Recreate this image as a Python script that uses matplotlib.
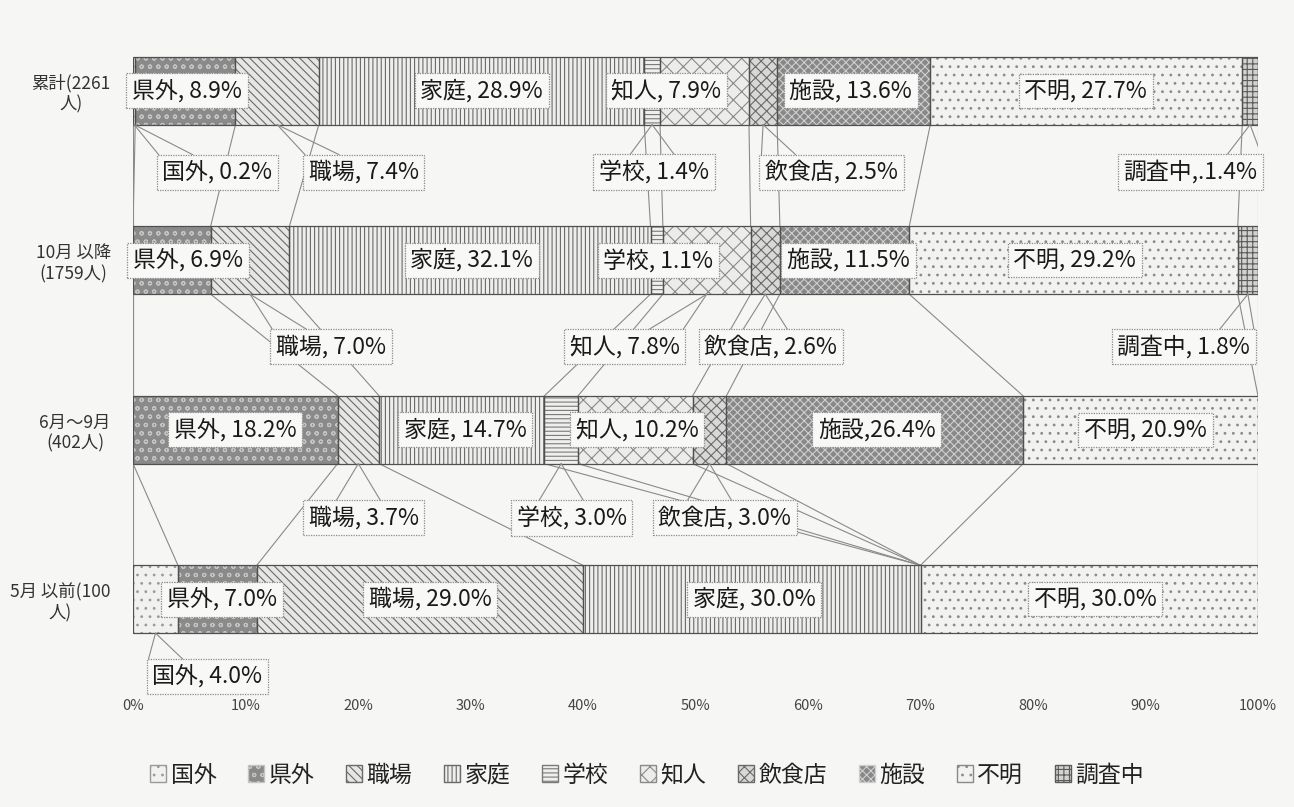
import matplotlib
matplotlib.use('Agg')
import matplotlib.pyplot as plt
from matplotlib.patches import Patch
import numpy as np

plt.rcParams['font.family'] = ['Noto Sans CJK JP', 'DejaVu Sans']
plt.rcParams['hatch.linewidth'] = 0.8

# ---------------- data ----------------
rows = ['累計(2261\n人)', '10月 以降\n(1759人)', '6月～9月\n(402人)', '5月 以前(100\n人)']
categories = ['国外', '県外', '職場', '家庭', '学校', '知人', '飲食店', '施設', '不明', '調査中']
v_total = [0.2, 8.9, 7.4, 28.9, 1.4, 7.9, 2.5, 13.6, 27.7, 1.4]
v_oct = [0.0, 6.9, 7.0, 32.1, 1.1, 7.8, 2.6, 11.5, 29.2, 1.8]
v_jun = [0.0, 18.2, 3.7, 14.7, 3.0, 10.2, 3.0, 26.4, 20.9, 0.0]
v_may = [4.0, 7.0, 29.0, 30.0, 0.0, 0.0, 0.0, 0.0, 30.0, 0.0]
values = [v_total, v_oct, v_jun, v_may]
xticks = [0, 10, 20, 30, 40, 50, 60, 70, 80, 90, 100]
xticklabels = ['0%', '10%', '20%', '30%', '40%', '50%', '60%', '70%', '80%', '90%', '100%']
# separators used in the original labels (default ", ")
label_sep = {(0, 9): ',.', (2, 7): ','}

# ---------------- style ----------------
styles = {
    '国外': ('#f1f1ef', '..', '#9a9a9a'),
    '県外': ('#8a8a8a', 'oo', '#c4c4c4'),
    '職場': ('#e6e6e4', '\\\\\\\\', '#6a6a6a'),
    '家庭': ('#eeeeec', '||||', '#6a6a6a'),
    '学校': ('#efefed', '----', '#7a7a7a'),
    '知人': ('#ececea', 'xx', '#8a8a8a'),
    '飲食店': ('#d8d8d6', 'xxx', '#6a6a6a'),
    '施設': ('#888888', 'xxxx', '#cfcfcf'),
    '不明': ('#f2f2f0', '..', '#8a8a8a'),
    '調査中': ('#d2d2d0', '+++', '#5a5a5a'),
}

# label layout: (row, category index) -> (x, y) in data coords
label_pos = {
    (0, 1): (4.8, 0), (0, 3): (31.0, 0), (0, 5): (47.4, 0), (0, 7): (63.8, 0), (0, 8): (84.7, 0),
    (0, 0): (7.5, 0.48), (0, 2): (20.5, 0.48), (0, 4): (46.3, 0.48), (0, 6): (62.1, 0.48), (0, 9): (94.0, 0.48),
    (1, 1): (4.9, 1), (1, 3): (30.1, 1), (1, 4): (46.7, 1), (1, 7): (63.6, 1), (1, 8): (83.7, 1),
    (1, 2): (17.6, 1.51), (1, 5): (43.7, 1.51), (1, 6): (56.7, 1.51), (1, 9): (93.4, 1.51),
    (2, 1): (9.1, 2), (2, 3): (29.5, 2), (2, 5): (44.8, 2), (2, 7): (66.1, 2), (2, 8): (90.0, 2),
    (2, 2): (20.5, 2.52), (2, 4): (39.0, 2.52), (2, 6): (52.6, 2.52),
    (3, 1): (7.9, 3), (3, 2): (26.4, 3), (3, 3): (55.2, 3), (3, 8): (85.5, 3),
    (3, 0): (6.6, 3.455),
}

BAR_H = 0.4
bg = '#f6f6f4'

fig = plt.figure(figsize=(12.94, 8.07), dpi=100, facecolor=bg)
ax = fig.add_axes([133 / 1294, 1 - 684 / 807, 1125 / 1294, 678 / 807])
ax.set_facecolor('none')

cums = []
for r, vals in enumerate(values):
    v = np.array(vals, dtype=float)
    v = v / v.sum() * 100.0
    left = np.concatenate([[0], np.cumsum(v)])
    cums.append(left)
    for k, cat in enumerate(categories):
        if v[k] <= 0:
            continue
        fc, h, hc = styles[cat]
        ax.barh(r, v[k], left=left[k], height=BAR_H, color=fc, hatch=h,
                edgecolor=hc, linewidth=0, zorder=2)
        ax.barh(r, v[k], left=left[k], height=BAR_H, fill=False,
                edgecolor='#505050', linewidth=0.9, zorder=3)

# series lines (including the 0 boundary)
for r in range(len(values) - 1):
    for k in range(len(categories) + 1):
        ax.plot([cums[r][k], cums[r + 1][k]], [r + BAR_H / 2, r + 1 - BAR_H / 2],
                color='#8a8a8a', lw=0.8, zorder=1)

ax.set_xlim(0, 100)
ax.set_ylim(3.5, -0.5)
ax.set_xticks(xticks)
ax.set_xticklabels(xticklabels, fontsize=10.5, color='#444444')
ax.set_yticks(range(len(rows)))
ax.set_yticklabels(rows, fontsize=12.5, color='#333333', multialignment='center')
ax.tick_params(axis='both', length=0)
ax.tick_params(axis='x', pad=11)
ax.tick_params(axis='y', pad=16)
for s in ['top', 'right', 'bottom', 'left']:
    ax.spines[s].set_visible(False)

texts = []
for (r, k), (x, y) in label_pos.items():
    val = values[r][k]
    sep = label_sep.get((r, k), ', ')
    t = ax.text(x, y, f'{categories[k]}{sep}{val:.1f}%', ha='center', va='center',
                fontsize=16.5, color='#1a1a1a', zorder=6,
                bbox=dict(boxstyle='square,pad=0.25', fc='#f8f8f7', ec='#8a8a8a',
                          lw=0.9, ls=(0, (1, 1))))
    texts.append((t, r, k, y))

fig.canvas.draw()
inv = ax.transData.inverted()
for t, r, k, y in texts:
    if abs(y - r) < 1e-6:
        continue
    bb = t.get_bbox_patch().get_window_extent()
    v = np.array(values[r], dtype=float)
    v = v / v.sum() * 100.0
    tx = cums[r][k] + v[k] / 2
    ty = r + BAR_H / 2
    tdisp = ax.transData.transform((tx, ty))
    bx = np.clip(tdisp[0], bb.x0 + 14, bb.x1 - 14)
    p1 = inv.transform((max(bx - 22, bb.x0 + 2), bb.y1))
    p2 = inv.transform((min(bx + 22, bb.x1 - 2), bb.y1))
    for p in (p1, p2):
        ax.plot([p[0], tx], [p[1], ty], color='#8a8a8a', lw=0.8, zorder=5)

handles = [Patch(facecolor=styles[c][0], hatch=styles[c][1], edgecolor=styles[c][2], label=c)
           for c in categories]
leg = fig.legend(handles=handles, loc='center', bbox_to_anchor=(0.5, 1 - 775 / 807),
                 ncol=10, frameon=False, fontsize=16.5, handlelength=0.7, handleheight=0.7,
                 handletextpad=0.2, columnspacing=1.38)
for txt in leg.get_texts():
    txt.set_color('#222222')

fig.savefig('out.png', dpi=100, facecolor=bg)
